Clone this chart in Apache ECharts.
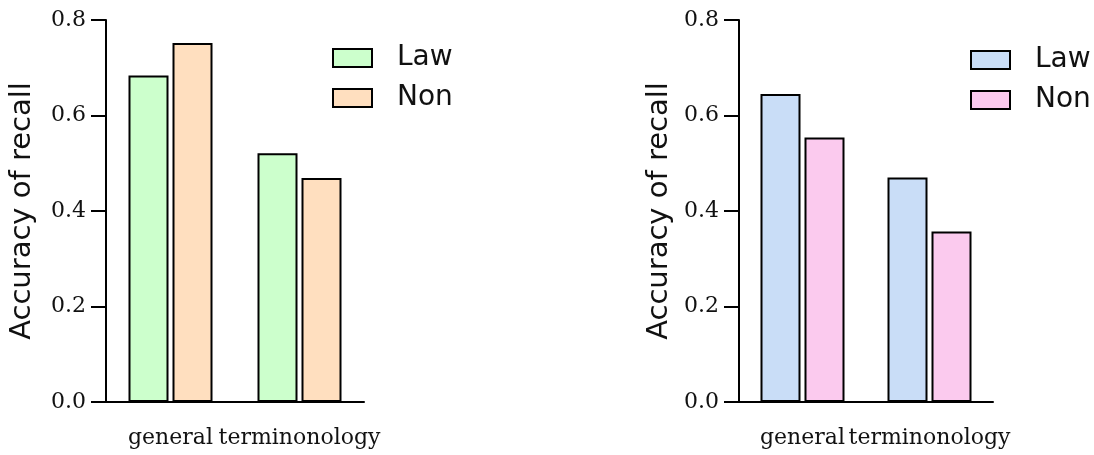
<!DOCTYPE html>
<html>
<head>
<meta charset="utf-8">
<script src="https://cdn.jsdelivr.net/npm/echarts@6/dist/echarts.min.js"></script>
<style>
  html, body { margin: 0; padding: 0; background: #fff; }
  #wrap { position: relative; width: 1094px; height: 455px; }
  .panel { position: absolute; top: 0; width: 547px; height: 455px; }
</style>
</head>
<body>
<div id="wrap">
  <div id="left" class="panel" style="left:0"></div>
  <div id="right" class="panel" style="left:547px"></div>
</div>
<script>
// Recall accuracy by word type, two groups per panel
const categories = ['general', 'terminonology'];
const seriesNames = ['Law', 'Non'];
const yTicks = [0, 0.2, 0.4, 0.6, 0.8];

const leftLaw = [0.684, 0.521];
const leftNon = [0.752, 0.469];
const rightLaw = [0.645, 0.470];
const rightNon = [0.554, 0.357];

const axisLabelFont = 'DejaVu Serif';
const sansFont = 'DejaVu Sans';

function buildOption(cfg) {
  return {
    animation: false,
    grid: { left: cfg.gridLeft, right: cfg.gridRight, top: 20, bottom: 53 },
    legend: {
      data: seriesNames,
      orient: 'vertical',
      left: cfg.legendLeft,
      top: cfg.legendTop,
      padding: 0,
      itemWidth: 39,
      itemHeight: 18,
      itemGap: 12,
      icon: 'rect',
      textStyle: {
        fontFamily: sansFont,
        fontSize: 28,
        lineHeight: 27,
        color: '#111',
        padding: [0, 0, 0, 20]
      }
    },
    xAxis: {
      type: 'category',
      data: categories,
      axisLine: { lineStyle: { color: '#000', width: 2 } },
      axisTick: { alignWithLabel: true, length: 14, lineStyle: { color: '#000', width: 2 } },
      axisLabel: {
        margin: 25,
        fontFamily: axisLabelFont,
        fontSize: 22,
        color: '#111',
        interval: 0
      }
    },
    yAxis: {
      type: 'value',
      min: yTicks[0],
      max: yTicks[yTicks.length - 1],
      interval: 0.2,
      name: 'Accuracy of recall',
      nameLocation: 'middle',
      nameRotate: 90,
      nameGap: cfg.nameGap,
      nameTextStyle: { fontFamily: sansFont, fontSize: 29, color: '#111' },
      splitLine: { show: false },
      axisLine: { show: true, lineStyle: { color: '#000', width: 2 } },
      axisTick: { show: true, length: 15, lineStyle: { color: '#000', width: 2 } },
      axisLabel: {
        margin: 20,
        fontFamily: axisLabelFont,
        fontSize: 22,
        color: '#111',
        formatter: v => v.toFixed(1)
      }
    },
    series: [
      {
        name: seriesNames[0], type: 'bar', data: cfg.law,
        barWidth: 40, barGap: '10%',
        itemStyle: { color: cfg.colors[0], borderColor: '#000', borderWidth: 2 }
      },
      {
        name: seriesNames[1], type: 'bar', data: cfg.non,
        barWidth: 40, barGap: '10%',
        itemStyle: { color: cfg.colors[1], borderColor: '#000', borderWidth: 2 }
      }
    ]
  };
}

const leftChart = echarts.init(document.getElementById('left'));
leftChart.setOption(buildOption({
  gridLeft: 106, gridRight: 183,
  legendLeft: 332, legendTop: 44,
  nameGap: 69,
  law: leftLaw, non: leftNon,
  colors: ['#ccffcc', '#ffdfbf']
}));

const rightChart = echarts.init(document.getElementById('right'));
rightChart.setOption(buildOption({
  gridLeft: 192, gridRight: 101,
  legendLeft: 423, legendTop: 46,
  nameGap: 65,
  law: rightLaw, non: rightNon,
  colors: ['#c9ddf7', '#fbcaee']
}));
</script>
</body>
</html>
